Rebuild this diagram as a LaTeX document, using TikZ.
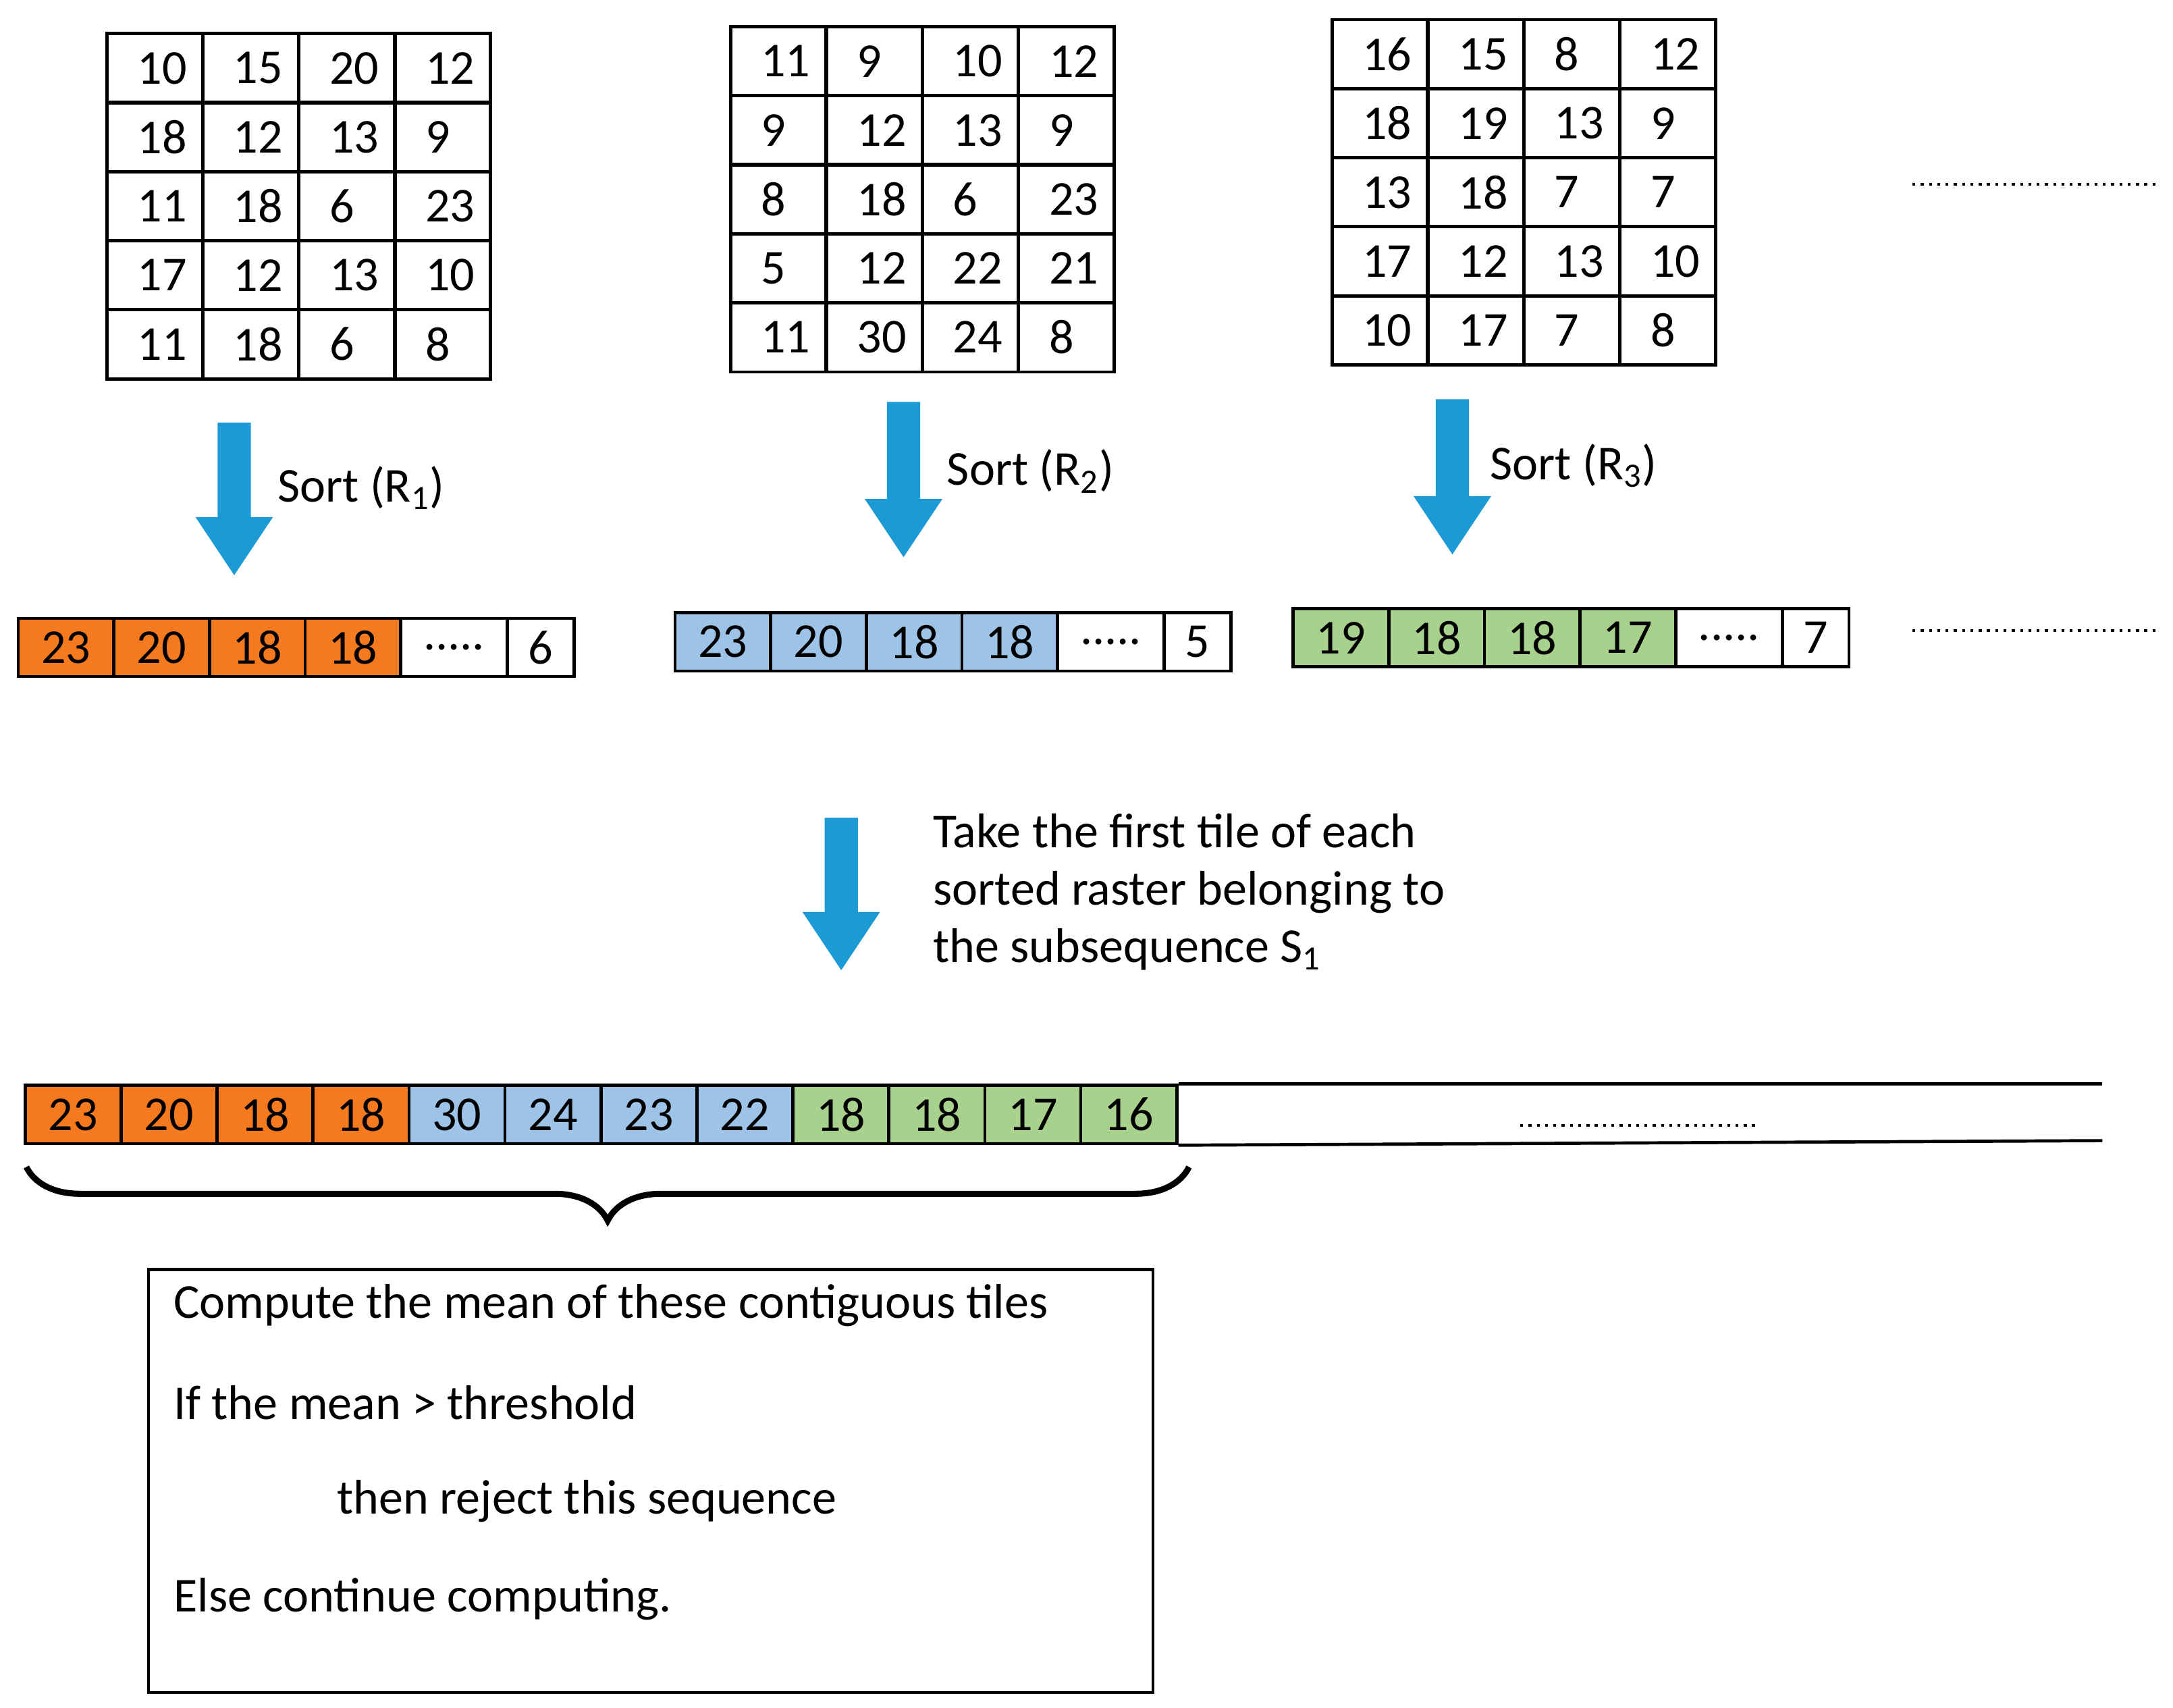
\documentclass[tikz,border=0pt]{standalone}
\usepackage{fontspec}
\setmainfont{Carlito}
\usetikzlibrary{decorations.pathreplacing}
\definecolor{cor}{HTML}{F57A1F}
\definecolor{cbl}{HTML}{9DC3E6}
\definecolor{cgr}{HTML}{A9D18E}
\definecolor{car}{HTML}{1C9AD6}
\begin{document}
\begin{tikzpicture}[x=0.02cm,y=-0.02cm,
  cell/.style={draw=black,line width=1.3pt,minimum width=1.38cm,minimum height=1cm,inner sep=0pt,font=\fontsize{20}{24}\selectfont,anchor=north west},
  rcell/.style={draw=black,line width=1.3pt,minimum height=0.84cm,inner sep=0pt,font=\fontsize{20}{24}\selectfont,anchor=north west},
  lbl/.style={font=\fontsize{20}{24}\selectfont,anchor=west,inner sep=0pt},
  dots/.style={line width=1.3pt,dotted,dash pattern=on 1.2pt off 2.2pt}]
\useasboundingbox (0,0) rectangle (1568,1232);
% grids
\def\grid#1#2#3#4{%
  \foreach \row [count=\r from 0] in {#4}{%
    \foreach \v [count=\c from 0] in \row{%
      \node[cell] (#1-\r-\c) at (#2+\c*69.3,#3+\r*49.8) {\hspace*{0.4cm}\makebox[0.9cm][l]{\v}};}}}
\grid{g1}{76}{23}{{10,15,20,12},{18,12,13,9},{11,18,6,23},{17,12,13,10},{11,18,6,8}}
\grid{g2}{526}{18}{{11,9,10,12},{9,12,13,9},{8,18,6,23},{5,12,22,21},{11,30,24,8}}
\grid{g3}{960}{13}{{16,15,8,12},{18,19,13,9},{13,18,7,7},{17,12,13,10},{10,17,7,8}}
% block arrows
\def\barrow#1#2#3{\fill[car] (#1-12,#2) -- (#1+12,#2) -- (#1+12,#3-42) -- (#1+28,#3-42) -- (#1,#3) -- (#1-28,#3-42) -- (#1-12,#3-42) -- cycle;}
\barrow{169}{305}{415}
\barrow{652}{290}{402}
\barrow{1048}{288}{400}
\barrow{607}{590}{700}
\node[lbl] (s1) at (200,352) {Sort (R\textsubscript{1})};
\node[lbl] (s2) at (683,340) {Sort (R\textsubscript{2})};
\node[lbl] (s3) at (1075,336) {Sort (R\textsubscript{3})};
% sorted rows
\def\srow#1#2#3#4#5#6{%
  \foreach \v [count=\c from 0] in {#4}{%
    \node[rcell,fill=#5,minimum width=1.38cm] (#1-\c) at (#2+\c*69,#3) {\v};}
  \node[rcell,minimum width=1.54cm] (#1-d) at (#2+276,#3) {.....};
  \node[rcell,minimum width=0.96cm] (#1-e) at (#2+353,#3) {#6};}
\srow{r1}{12}{445}{23,20,18,18}{cor}{6}
\srow{r2}{486}{441}{23,20,18,18}{cbl}{5}
\srow{r3}{932}{438}{19,18,18,17}{cgr}{7}
\draw[dots] (1380,133) -- (1558,133);
\draw[dots] (1380,455) -- (1558,455);
\node[lbl,align=left,anchor=north west,font=\fontsize{20}{23.5}\selectfont] (tk) at (673,587) {Take the first tile of each\\sorted raster belonging to\\the subsequence S\textsubscript{1}};
% bottom row
\foreach \v/\col [count=\c from 0] in {23/cor,20/cor,18/cor,18/cor,30/cbl,24/cbl,23/cbl,22/cbl,18/cgr,18/cgr,17/cgr,16/cgr}{
  \node[rcell,fill=\col,minimum width=1.385cm] (b\c) at (17+\c*69.25,782) {\v};}
\coordinate (le) at (1517,782);
\coordinate (le2) at (1517,823);
\draw[line width=1.3pt] (b11.north east) -- (le);
\draw[line width=1.3pt] (b11.south east) -- (le2);
\draw[dots] (1097,812) -- (1268,812);
\coordinate (bl) at (19,842);
\coordinate (br) at (858,842);
\draw[line width=2.5pt,decorate,decoration={brace,mirror,amplitude=22pt,aspect=0.5}] (bl) -- (br);
% box
\node[draw=black,line width=1.3pt,anchor=north west,minimum width=14.5cm,minimum height=6.1cm] (box) at (106,915) {};
\node[lbl] (t1) at (125,942) {Compute the mean of these contiguous tiles};
\node[lbl] (t2) at (125,1012) {If the mean > threshold};
\node[lbl] (t3) at (243,1083) {then reject this sequence};
\node[lbl] (t4) at (125,1154) {Else continue computing.};
\end{tikzpicture}
\end{document}
